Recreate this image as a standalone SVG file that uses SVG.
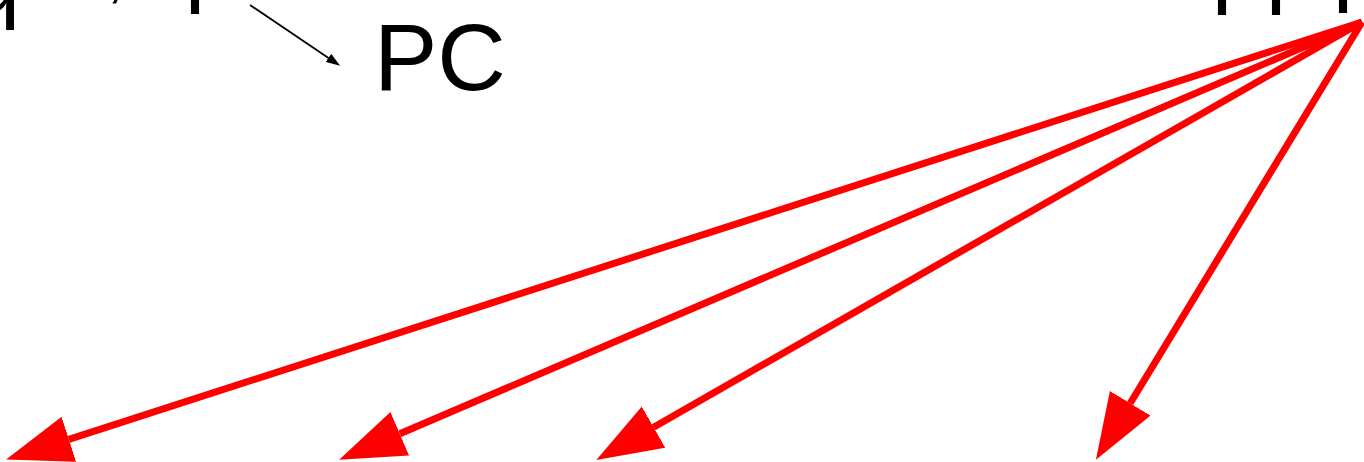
<svg xmlns="http://www.w3.org/2000/svg" width="1364" height="462" viewBox="0 0 1364 462">
<style>
.frag{font-family:"Liberation Sans",Arial,sans-serif;fill:#000}
.lbl{font-family:"Liberation Sans",Arial,sans-serif;font-size:95px;fill:#000}
.red{stroke:#ff0000;stroke-width:7;fill:none}
.blk{stroke:#000;stroke-width:1.8;fill:none}
</style>
<defs>
<marker id="rh" markerUnits="userSpaceOnUse" markerWidth="66" markerHeight="48" viewBox="0 0 64 46" refX="0" refY="23" orient="auto">
<path d="M0,0 L64,23 L0,46 z" fill="#ff0000"/>
</marker>
<marker id="bh" markerUnits="userSpaceOnUse" markerWidth="14" markerHeight="10" viewBox="0 0 13 9" refX="0" refY="4.5" orient="auto">
<path d="M0,0 L13,4.5 L0,9 z" fill="#000"/>
</marker>
</defs>
<g id="top-fragments">
<text class="frag" x="-30" y="11" font-size="90">q</text>
<text class="frag" x="107" y="-4" font-size="60">,</text>
<text class="frag" x="182" y="-7" font-size="100">|</text>
<text class="frag" x="1209" y="-6" font-size="100">|</text>
<text class="frag" x="1263" y="-6" font-size="100">|</text>
<text class="frag" x="1330" y="-8" font-size="100">|</text>
</g>
<g id="node-pc">
<text class="lbl" x="374" y="90">PC</text>
</g>
<g id="connectors">
<line class="blk" x1="250" y1="5" x2="328.5" y2="57.9" marker-end="url(#bh)"/>
<line class="red" x1="1362" y1="22" x2="68.9" y2="439.3" marker-end="url(#rh)"/>
<line class="red" x1="1362" y1="22" x2="399.8" y2="433.8" marker-end="url(#rh)"/>
<line class="red" x1="1362" y1="22" x2="653.6" y2="427.2" marker-end="url(#rh)"/>
<line class="red" x1="1362" y1="22" x2="1130.2" y2="403.3" marker-end="url(#rh)"/>
</g>
</svg>
